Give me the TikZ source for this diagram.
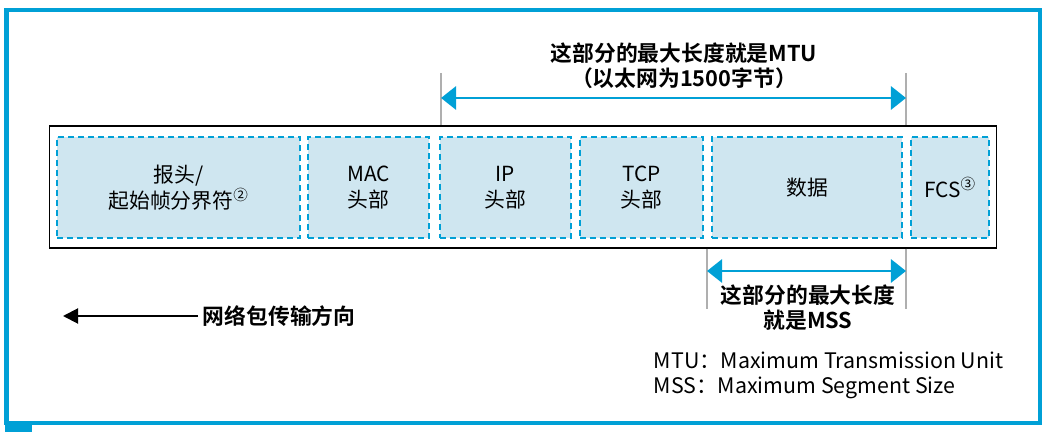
\documentclass[tikz,border=0pt]{standalone}
\usepackage{fontspec}
\setmainfont{Noto Sans CJK SC}[BoldFont={Noto Sans CJK SC Bold}]
\usetikzlibrary{arrows.meta,positioning,calc}
\definecolor{frameblue}{RGB}{0,160,214}
\definecolor{fieldblue}{RGB}{207,230,240}
\definecolor{guidegray}{RGB}{175,175,175}

\begin{document}
\begin{tikzpicture}[
    x=0.025cm, y=-0.025cm,
    field/.style={rectangle, draw=frameblue, fill=fieldblue, dash pattern=on 0.15cm off 0.1cm, line width=0.8pt, minimum height=2.525cm, inner sep=0pt, align=center, font=\fontsize{14.8}{18.5}\selectfont},
    span/.style={{Triangle[length=10.7pt,width=16.4pt]}-{Triangle[length=10.7pt,width=16.4pt]}, draw=frameblue, line width=2.1pt},
    guide/.style={draw=guidegray, line width=0.8pt},
    note/.style={align=center, font=\bfseries\fontsize{15.5}{17.8}\selectfont}
]
    \useasboundingbox (0,0) rectangle (1060,432);
    % outer frame
    \draw[frameblue, line width=2.85pt] (6.5,10) rectangle (1040,423);
    \fill[frameblue] (5,421) rectangle (32,432);

    % packet fields
    \node[draw, line width=0.8pt, minimum width=23.65cm, minimum height=3.05cm, inner sep=0pt] (frame) at (523,187) {};
    \node[field, minimum width=6.075cm] (pre) at (178.5,187.5) {报头/\\起始帧分界符\textsuperscript{②}};
    \node[field, minimum width=3.025cm] (mac) at (368.5,187.5) {MAC\\头部};
    \node[field, minimum width=3.275cm] (ip) at (505.5,187.5) {IP\\头部};
    \node[field, minimum width=3.075cm] (tcp) at (641.5,187.5) {TCP\\头部};
    \node[field, minimum width=4.75cm] (data) at (807,187.5) {数据};
    \node[field, minimum width=1.95cm] (fcs) at (950,187.5) {FCS\textsuperscript{③}};

    % MTU span
    \coordinate (mtuL) at (441,73);
    \coordinate (mtuR) at (906,73);
    \draw[guide] (mtuL) -- (mtuL |- frame.north);
    \draw[guide] (mtuR) -- (mtuR |- frame.north);
    \draw[span] ($(mtuL)+(0,25)$) -- ($(mtuR)+(0,25)$);
    \node[note] (mtu) at (684,65.5) {这部分的最大长度就是MTU\\（以太网为1500字节）};

    % MSS span
    \coordinate (mssL) at (707,309);
    \coordinate (mssR) at (906,309);
    \draw[guide] (mssL |- frame.south) -- (mssL);
    \draw[guide] (mssR |- frame.south) -- (mssR);
    \draw[span] ($(mssL)+(0,-38)$) -- ($(mssR)+(0,-38)$);
    \node[note] (mss) at (808,307.5) {这部分的最大长度\\就是MSS};

    % direction
    \node[note, anchor=west] (dir) at (198,316) {网络包传输方向};
    \coordinate (dirend) at (63,316);
    \draw[-{Triangle[length=10.7pt,width=10.7pt]}, line width=1.4pt] (dir.west) -- (dirend);

    % legend
    \node[anchor=west, align=left, font=\fontsize{15.2}{17.8}\selectfont] (legend) at (649,375.5) {MTU：Maximum Transmission Unit\\MSS：Maximum Segment Size};
\end{tikzpicture}
\end{document}
